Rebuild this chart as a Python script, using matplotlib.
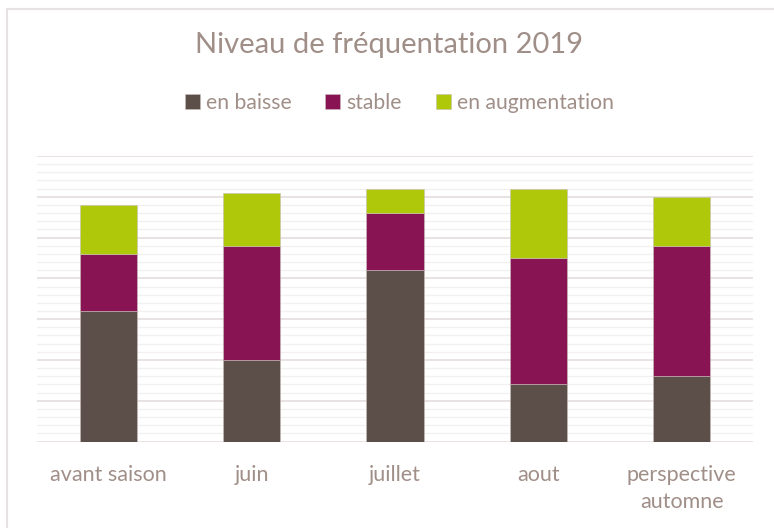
import numpy as np
import matplotlib.pyplot as plt
from matplotlib.patches import Rectangle
from matplotlib.ticker import MultipleLocator

# données
categories = ["avant saison", "juin", "juillet", "aout", "perspective\nautomne"]
en_baisse = [32, 20, 42, 14, 16]
stable = [14, 28, 14, 31, 32]
en_augmentation = [12, 13, 6, 17, 12]

series = ["en baisse", "stable", "en augmentation"]
colors = ["#5C4F4A", "#881453", "#AFC80A"]
text_color = "#A08F88"

plt.rcParams["font.family"] = ["Lato", "DejaVu Sans"]

fig = plt.figure(figsize=(7.74, 5.28), dpi=100)
ax = fig.add_axes([0.0474, 0.1638, 0.9259, 0.5407])

x = np.arange(len(categories))
bottom = np.zeros(len(categories))
for name, vals, col in zip(series, [en_baisse, stable, en_augmentation], colors):
    ax.bar(x, vals, bottom=bottom, width=0.4, color=col, label=name,
           edgecolor="#C9BFBB", linewidth=0.4, zorder=3)
    bottom += np.array(vals)

# axes
ax.set_xlim(-0.5, len(categories) - 0.5)
ax.set_ylim(0, 70)
ax.yaxis.set_major_locator(MultipleLocator(10))
ax.yaxis.set_minor_locator(MultipleLocator(2))
ax.grid(axis="y", which="major", color="#E4DDDD", linewidth=1.2, zorder=0)
ax.grid(axis="y", which="minor", color="#F3F0F0", linewidth=1.0, zorder=0)
ax.set_axisbelow(True)
for s in ax.spines.values():
    s.set_visible(False)
ax.tick_params(axis="y", which="both", left=False, labelleft=False)
ax.tick_params(axis="x", length=0, pad=17, labelsize=15.5, labelcolor=text_color)
ax.set_xticks(x)
ax.set_xticklabels(categories, linespacing=1.4)

# titre
fig.text(0.503, 0.915, "Niveau de fréquentation 2019", ha="center", va="center",
         fontsize=21, color=text_color, fontweight="normal")

# légende
fig.legend(loc="center", bbox_to_anchor=(0.516, 0.805), ncol=3, frameon=False,
           fontsize=15.2, labelcolor=text_color, handlelength=0.7, handleheight=0.7,
           handletextpad=0.3, columnspacing=1.6)

# cadre du graphique
fig.patches.append(Rectangle((7 / 774, -0.05), 1.1, 1 - 9 / 528 + 0.05,
                             transform=fig.transFigure, fill=False,
                             edgecolor="#E6E2E2", linewidth=1.5))

fig.savefig("out.png", dpi=100)
